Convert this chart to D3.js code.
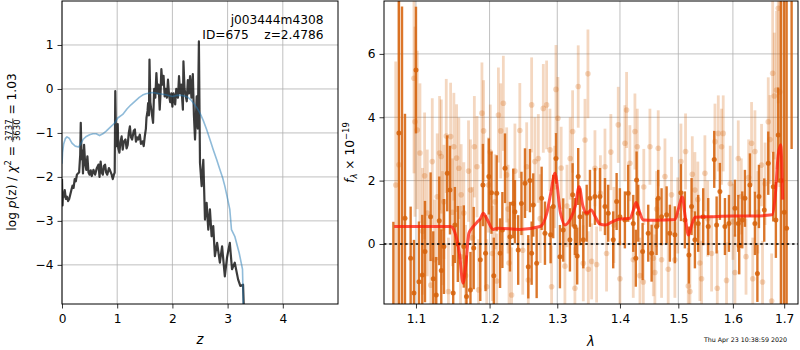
<!DOCTYPE html>
<html>
<head>
<meta charset="utf-8">
<script src="https://cdn.jsdelivr.net/npm/d3@7"></script>
<style>
body { margin: 0; background: #fff; }
svg { font-family: "DejaVu Sans", sans-serif; }
text { white-space: pre; }
</style>
</head>
<body>
<svg id="drawing_region" width="800" height="350"></svg>
<script>
// ---------- left panel: log p(z) ----------
const pz_z = [0.00,0.01,0.02,0.035,0.05,0.07,0.09,0.11,0.13,0.15,0.17,0.19,0.21,0.23,0.25,0.27,0.29,0.31,0.33,0.34,
  0.355,0.37,0.38,0.40,0.42,0.44,0.46,0.48,0.50,0.52,0.54,0.57,0.60,0.63,0.66,0.68,0.70,0.72,0.74,0.76,
  0.78,0.80,0.82,0.85,0.87,0.90,0.92,0.94,0.955,0.965,0.975,0.99,1.01,1.02,1.04,1.06,1.08,1.10,1.12,1.15,
  1.17,1.19,1.21,1.23,1.25,1.27,1.30,1.32,1.34,1.36,1.38,1.41,1.43,1.46,1.48,1.50,1.52,1.53,1.55,1.56,
  1.575,1.585,1.60,1.62,1.65,1.67,1.69,1.71,1.73,1.75,1.77,1.785,1.80,1.82,1.84,1.86,1.88,1.90,1.92,1.94,
  1.96,1.98,2.00,2.02,2.05,2.07,2.10,2.12,2.14,2.16,2.19,2.20,2.22,2.24,2.26,2.28,2.30,2.32,2.345,2.37,
  2.39,2.41,2.43,2.44,2.46,2.48,2.50,2.53,2.56,2.59,2.62,2.65,2.68,2.71,2.74,2.77,2.81,2.86,2.90,2.95,
  2.99,3.04,3.08,3.13,3.19,3.23,3.28,3.30];
const pz_logp = [-2.05,-2.65,-2.35,-2.45,-2.3,-2.5,-2.45,-2.55,-2.5,-2.4,-2.3,-2.2,-2.25,-2.05,-2.1,-1.95,-1.92,-1.9,-1.5,-0.77,
  -1.6,-1.4,-1.92,-1.27,-1.7,-1.84,-1.53,-1.9,-1.95,-1.85,-1.98,-1.84,-1.95,-1.8,-1.72,-2.0,-1.65,-1.9,-1.95,-1.75,
  -1.72,-1.9,-1.95,-1.8,-1.85,-1.95,-2.05,-1.95,-1.9,-0.05,-0.9,-1.3,-0.8,-1.35,-1.45,-1.2,-1.08,-1.38,-1.2,-1.15,
  -1.35,-1.27,-1.0,-0.85,-1.1,-1.15,-0.95,-0.92,-1.2,-1.1,-1.15,-1.04,-1.25,-1.19,-1.3,-1.08,-0.9,-0.66,-0.5,-0.32,
  -0.6,0.67,-0.3,-0.5,-0.77,0.0,-0.2,0.36,-0.1,0.1,-0.47,-0.1,0.45,0.1,0.3,-0.17,0.0,-0.2,0.21,-0.15,
  -0.3,-0.1,-0.4,-0.1,-0.35,0.0,-0.2,0.29,-0.1,0.1,-0.47,0.63,0.0,-0.15,-0.28,0.2,-0.1,0.29,-0.2,0.34,
  -0.6,-1.15,-0.5,-0.17,-0.9,1.08,-1.68,-2.21,-1.61,-2.97,-2.59,-3.2,-2.74,-3.35,-3.12,-3.8,-3.5,-3.95,-3.58,-4.26,
  -3.83,-3.5,-4.1,-3.95,-4.33,-4.48,-4.45,-5.2];
const prior_z = [0.00,0.01,0.03,0.06,0.09,0.13,0.18,0.24,0.30,0.34,0.38,0.44,0.50,0.56,0.62,0.68,0.74,0.80,0.89,0.95,
  1.01,1.10,1.18,1.25,1.33,1.40,1.46,1.52,1.64,1.77,1.88,2.00,2.10,2.18,2.27,2.33,2.38,2.44,2.50,2.56,
  2.62,2.68,2.74,2.80,2.86,2.91,2.95,3.00,3.04,3.07,3.13,3.21,3.27,3.29];
const prior_logp = [-1.7,-1.45,-1.25,-1.13,-1.09,-1.12,-1.23,-1.3,-1.32,-1.25,-1.15,-1.08,-1.04,-1.02,-1.02,-1.06,-1.02,-0.96,-0.85,-0.78,
  -0.66,-0.58,-0.45,-0.36,-0.27,-0.19,-0.14,-0.11,-0.08,-0.11,-0.13,-0.17,-0.14,-0.15,-0.18,-0.24,-0.32,-0.42,-0.55,-0.72,
  -0.92,-1.15,-1.38,-1.6,-1.83,-2.02,-2.21,-2.5,-2.74,-3.2,-3.35,-3.73,-4.1,-5.2];
const pz_xticks = [0, 1, 2, 3, 4];
const pz_yticks = [-4, -3, -2, -1, 0, 1];

// ---------- right panel: spectrum ----------
// fitted spectrum (solid orange)
const fit_wave = [1.071,1.078,1.082,1.0858,1.0931,1.0974,1.100,1.1039,1.1082,1.1118,1.1192,1.1227,1.1267,1.1307,1.1334,1.137,1.1414,1.1451,1.1495,1.1518,
  1.1558,1.164,1.1677,1.1732,1.1777,1.1869,1.1906,1.1943,1.199,1.2027,1.206,1.2102,1.215,1.2183,1.2221,1.2293,1.2341,1.2365,1.2413,1.2461,
  1.2513,1.2562,1.2587,1.2612,1.2636,1.2687,1.2762,1.2812,1.2898,1.2938,1.298,1.3041,1.3092,1.3196,1.3238,1.3274,1.331,1.3326,1.3354,1.3406,
  1.346,1.3512,1.3592,1.3673,1.3754,1.3807,1.3889,1.3945,1.3999,1.4082,1.4137,1.4222,1.4265,1.4278,1.4306,1.438,1.4476,1.4534,1.462,1.4648,
  1.4706,1.4794,1.4851,1.4939,1.5046,1.5117,1.5189,1.5237,1.5297,1.5357,1.5448,1.554,1.5651,1.5695,1.5756,1.585,1.5925,1.6039,1.6102,1.612,
  1.6178,1.6229,1.6325,1.6422,1.647,1.65,1.6604,1.6683,1.6782,1.6834,1.6881,1.6934,1.7001,1.7049,1.715];
const fit_flux = [-2.3,3.5,-2.5,0.81,-0.45,-1.55,5.49,-1.19,-0.98,-0.24,0.86,-1.1,-1.61,0.73,-0.84,-0.08,2.23,1.7,-1.55,0.6,
  0.0,-0.08,-1.66,-1.45,-0.13,-0.5,1.86,-0.29,2.13,1.62,-1.0,1.6,-0.29,0.44,2.39,0.23,1.28,1.02,-0.19,1.28,
  1.92,-0.72,2.0,-0.29,1.23,-0.61,1.44,0.34,0.29,1.18,2.7,-0.4,0.44,0.13,1.55,0.55,-0.38,2.13,0.86,0.13,
  0.97,1.44,1.5,1.5,1.18,0.97,0.13,1.34,0.86,0.76,1.6,0.65,-0.45,2.02,0.97,-0.24,0.34,-0.29,0.55,1.44,
  0.86,0.92,0.34,0.29,1.62,0.76,-0.35,1.18,0.13,0.65,0.86,0.55,2.67,0.6,1.66,0.55,0.65,1.13,0.65,-0.06,
  0.76,1.44,1.86,0.65,-0.93,1.5,1.07,2.55,1.81,0.76,3.44,2.0,1.0,0.5,8.5];
const fit_err = [3.0,6,10,3.3,1.63,1.68,2.0,1.9,1.9,1.6,1.4,1.5,1.2,1.4,1.3,1.5,1.2,1.4,1.2,1.2,
  1.2,1.3,1.3,1.2,1.3,1.3,1.3,1.2,1.2,1.3,1.2,1.2,1.1,1.2,1.1,1.1,1.1,1.0,1.1,1.0,
  1.1,1.0,1.0,1.0,1.0,1.1,1.0,1.0,0.9,1.0,0.8,1.0,1.0,1.0,1.0,0.9,0.9,0.9,0.9,0.9,
  0.9,0.9,0.9,0.9,0.9,0.9,0.9,0.9,0.9,0.9,0.9,0.9,0.9,0.9,0.9,0.9,0.9,0.9,0.9,0.9,
  0.9,0.9,0.9,0.9,0.9,0.9,0.9,0.9,0.9,0.9,0.9,0.9,0.9,0.9,0.9,0.9,0.9,0.9,0.9,0.9,
  0.9,0.9,1.0,1.0,0.9,1.0,1.0,1.0,1.1,1.2,1.5,6,9,12,5.5];

// raw spectrum (faint orange)
const raw_wave = [1.074,1.078,1.0974,1.0987,1.1017,1.1052,1.1113,1.1148,1.1195,1.1214,1.128,1.1311,1.1334,1.137,1.1401,1.143,1.146,1.1504,1.1541,1.1572,
  1.1604,1.164,1.1665,1.1732,1.1786,1.1823,1.1845,1.1892,1.1915,1.196,1.1985,1.2078,1.2102,1.2126,1.2159,1.2197,1.2245,1.2279,1.2317,1.2437,
  1.2538,1.2562,1.2612,1.2661,1.2712,1.2787,1.2837,1.2888,1.2913,1.298,1.301,1.3118,1.3238,1.3274,1.3326,1.3406,1.3433,1.348,1.3486,1.3539,
  1.3592,1.3619,1.3754,1.378,1.3972,1.3999,1.4082,1.411,1.4165,1.4222,1.425,1.429,1.4335,1.4392,1.4505,1.4563,1.459,1.4648,1.4706,1.4765,
  1.4822,1.488,1.4939,1.5046,1.5129,1.5177,1.5207,1.5297,1.5387,1.5418,1.5479,1.5602,1.5664,1.5707,1.5726,1.5787,1.5818,1.588,1.6039,1.6102,
  1.6357,1.638,1.6422,1.6551,1.657,1.6683,1.6716,1.675,1.677,1.6802,1.6847,1.6881,1.6911,1.695,
  1.1085,1.1245,1.135,1.1485,1.1595,1.1705,1.176,1.201,1.204,1.2265,1.2365,1.248,1.274,1.296,1.306,1.315,1.32,1.368,1.385,1.39,
  1.44,1.462,1.499,1.525,1.535,1.553,1.595,1.60,1.616,1.625,1.63,1.648,1.662];
const raw_flux = [1.86,2.5,5.23,3.86,3.6,2.87,2.15,0.98,-1.3,2.6,1.49,2.87,2.76,1.33,3.41,-1.5,3.39,3.07,2.71,2.39,
  1.55,0.98,-1.0,1.7,3.07,2.44,-1.45,4.13,3.57,-1.35,1.86,1.33,-1.17,4.07,3.57,4.44,2.18,-0.6,-1.61,3.58,
  2.44,-1.14,4.39,2.6,2.7,4.28,4.39,2.97,-1.35,4.88,3.97,-0.7,3.55,-1.4,4.97,-0.61,3.28,5.37,-0.8,-0.55,
  2.39,-0.65,2.44,-0.3,3.76,-1.1,3.18,4.23,2.55,-0.5,3.55,3.07,-1.0,-1.2,3.07,-0.45,-0.9,3.02,-0.5,2.13,
  -0.8,1.55,-0.5,2.6,2.92,-1.33,-1.5,1.7,-0.6,-1.1,2.23,-0.3,3.23,-1.4,3.49,3.07,3.49,-1.15,-0.9,2.7,
  3.18,-1.1,2.92,2.49,-1.2,3.86,3.3,-1.8,5.39,4.67,4.86,7.44,4.8,2.0,
  0.4,-0.5,0.5,1.0,-0.4,2.3,0.2,2.9,-0.3,1.1,2.3,-0.2,0.8,1.8,2.4,1.2,2.7,1.6,2.9,0.6,
  1.8,1.1,0.9,2.2,1.4,0.8,1.9,0.7,1.5,-0.4,2.1,1.0,1.9];
const raw_err = [3.9,5.5,3.0,3.0,2.5,2.2,2.0,2.0,1.8,2.0,2.0,1.8,1.8,1.8,1.8,1.7,1.7,1.7,1.7,1.6,
  1.6,1.6,1.6,1.6,1.6,1.6,1.6,1.6,1.6,1.5,1.5,1.5,1.5,1.5,1.5,1.5,1.5,1.4,1.5,1.5,
  1.4,1.3,1.5,1.4,1.4,1.4,1.4,1.3,1.3,1.4,1.3,1.3,1.3,1.3,1.3,1.2,1.3,1.4,1.2,1.2,
  1.2,1.2,1.2,1.2,1.2,1.2,1.2,1.2,1.2,1.2,1.2,1.2,1.2,1.2,1.2,1.2,1.2,1.2,1.2,1.2,
  1.2,1.2,1.2,1.2,1.2,1.2,1.2,1.2,1.2,1.2,1.2,1.2,1.2,1.2,1.2,1.2,1.2,1.2,1.2,1.2,
  1.3,1.3,1.3,1.3,1.3,1.4,1.4,1.5,2.5,2.0,2.5,3.0,3.0,6.0,
  2.0,1.9,1.8,1.7,1.6,1.6,1.6,1.5,1.5,1.4,1.5,1.4,1.4,1.3,1.3,1.3,1.3,1.2,1.2,1.2,
  1.2,1.2,1.2,1.2,1.2,1.2,1.2,1.2,1.2,1.2,1.2,1.3,1.3];

// best-fit template (red)
const model_wave = [1.072,1.100,1.146,1.152,1.158,1.163,1.167,1.171,1.176,1.183,1.187,1.191,1.196,1.205,1.212,1.244,1.274,1.284,1.290,1.2965,
  1.305,1.312,1.322,1.328,1.334,1.340,1.346,1.353,1.360,1.367,1.376,1.387,1.398,1.417,1.422,1.427,1.433,1.439,1.460,1.494,
  1.500,1.507,1.512,1.518,1.524,1.530,1.560,1.600,1.640,1.676,1.682,1.688,1.693,1.697];
const model_flux = [0.55,0.55,0.55,0.35,-0.3,-1.24,-0.6,0.34,0.52,0.7,0.8,0.97,0.8,0.46,0.5,0.46,0.55,0.97,1.6,2.23,
  0.97,0.6,0.86,1.2,1.81,1.2,0.97,1.07,0.85,0.63,0.6,0.7,0.78,0.81,1.05,1.31,1.0,0.76,0.75,0.77,
  1.1,1.49,0.9,0.28,0.6,0.84,0.86,0.88,0.88,0.92,1.5,2.8,3.13,1.4];
const sp_xticks = [1.1, 1.2, 1.3, 1.4, 1.5, 1.6, 1.7];
const sp_yticks = [0, 2, 4, 6];

const obj_name = 'j003444m4308';
const obj_info = 'ID=675    z=2.4786';
const time_stamp = 'Thu Apr 23 10:38:59 2020';

const svg = d3.select('#drawing_region');
const FONT = 12.2;
const ORANGE = '#d6630c';

function drawGrid(g, x, y, xticks, yticks) {
    const [x0, x1] = x.range();
    const [y0, y1] = y.range();
    g.append('g').selectAll('line').data(xticks).join('line')
        .attr('x1', d => x(d)).attr('x2', d => x(d))
        .attr('y1', y0).attr('y2', y1)
        .attr('stroke', '#b0b0b0').attr('stroke-width', 0.8);
    g.append('g').selectAll('line').data(yticks).join('line')
        .attr('x1', x0).attr('x2', x1)
        .attr('y1', d => y(d)).attr('y2', d => y(d))
        .attr('stroke', '#b0b0b0').attr('stroke-width', 0.8);
}

function drawAxes(g, x, y, xticks, yticks, xfmt, yfmt) {
    const [x0, x1] = x.range();
    const [y0, y1] = y.range();
    const xa = g.append('g').attr('transform', `translate(0,${y0})`)
        .call(d3.axisBottom(x).tickValues(xticks).tickFormat(xfmt).tickSize(4.5).tickPadding(5.5));
    const ya = g.append('g').attr('transform', `translate(${x0},0)`)
        .call(d3.axisLeft(y).tickValues(yticks).tickFormat(yfmt).tickSize(4.5).tickPadding(4));
    [xa, ya].forEach(a => {
        a.attr('font-family', null).attr('font-size', FONT);
        a.select('.domain').remove();
        a.selectAll('line').attr('stroke', '#000').attr('stroke-width', 0.8);
        a.selectAll('text').attr('fill', '#000');
    });
    g.append('rect')
        .attr('x', x0).attr('y', y1)
        .attr('width', x1 - x0).attr('height', y0 - y1)
        .attr('fill', 'none').attr('stroke', '#000').attr('stroke-width', 1);
}

// ================= left panel =================
const xz = d3.scaleLinear().domain([0, 5]).range([62, 338]);
const yz = d3.scaleLinear().domain([-4.89, 2.0]).range([304, 1]);
const left = svg.append('g');

svg.append('clipPath').attr('id', 'clipL').append('rect')
    .attr('x', 62).attr('y', 1).attr('width', 276).attr('height', 303);

drawGrid(left, xz, yz, pz_xticks, pz_yticks);

const pzLine = d3.line().x(d => xz(d[0])).y(d => yz(d[1]));
const leftData = left.append('g').attr('clip-path', 'url(#clipL)');
leftData.append('path')
    .datum(d3.zip(pz_z, pz_logp))
    .attr('d', pzLine)
    .attr('fill', 'none').attr('stroke', '#000').attr('stroke-opacity', 0.77)
    .attr('stroke-width', 2.2).attr('stroke-linejoin', 'round');
leftData.append('path')
    .datum(d3.zip(prior_z, prior_logp))
    .attr('d', pzLine)
    .attr('fill', 'none').attr('stroke', '#1f77b4').attr('stroke-opacity', 0.5)
    .attr('stroke-width', 1.6).attr('stroke-linejoin', 'round');

drawAxes(left, xz, yz, pz_xticks, pz_yticks, d3.format('d'), d3.format('d'));

left.append('text').attr('x', 323.5).attr('y', 24).attr('text-anchor', 'end')
    .attr('font-size', FONT).text(obj_name);
left.append('text').attr('x', 323.5).attr('y', 38.5).attr('text-anchor', 'end')
    .attr('font-size', FONT).text(obj_info);

left.append('text').attr('x', 200).attr('y', 344).attr('text-anchor', 'middle')
    .attr('font-size', FONT + 1).attr('font-style', 'italic').text('z');

// y label with a stacked fraction
const ylab = svg.append('g').attr('transform', 'translate(16,152) rotate(-90)')
    .attr('font-size', FONT);
const part1 = ylab.append('text');
part1.append('tspan').text('log ');
part1.append('tspan').attr('font-style', 'italic').text('p');
part1.append('tspan').text('(z) / ');
part1.append('tspan').attr('font-style', 'italic').text('χ');
part1.append('tspan').attr('font-size', 8.5).attr('dy', -5).text('2');
part1.append('tspan').attr('dy', 5).text(' = ');
const num = ylab.append('text').attr('font-size', 8.5).attr('text-anchor', 'middle').text('3737');
const den = ylab.append('text').attr('font-size', 8.5).attr('text-anchor', 'middle').text('3630');
const part3 = ylab.append('text').text(' = 1.03');

const w1 = part1.node().getComputedTextLength();
const wf = Math.max(num.node().getComputedTextLength(), den.node().getComputedTextLength()) + 2;
const w3 = part3.node().getComputedTextLength();
const u0 = -(w1 + wf + w3) / 2;
part1.attr('x', u0);
num.attr('x', u0 + w1 + wf / 2).attr('y', -4.5);
den.attr('x', u0 + w1 + wf / 2).attr('y', 4);
ylab.append('line')
    .attr('x1', u0 + w1).attr('x2', u0 + w1 + wf)
    .attr('y1', -3.2).attr('y2', -3.2)
    .attr('stroke', '#000').attr('stroke-width', 0.7);
part3.attr('x', u0 + w1 + wf);

// ================= right panel =================
const xs = d3.scaleLog().domain([1.0592, 1.728]).range([384, 798]);
const ys = d3.scaleLinear().domain([-1.895, 7.67]).range([304, 1]);
const right = svg.append('g');

svg.append('clipPath').attr('id', 'clipR').append('rect')
    .attr('x', 384).attr('y', 1).attr('width', 414).attr('height', 303);

drawGrid(right, xs, ys, sp_xticks, sp_yticks);

const rightData = right.append('g').attr('clip-path', 'url(#clipR)');

function errorbars(g, wave, flux, err, opacity, r, w) {
    const pts = d3.zip(wave, flux, err);
    g.append('g').selectAll('line').data(pts).join('line')
        .attr('x1', d => xs(d[0])).attr('x2', d => xs(d[0]))
        .attr('y1', d => ys(d[1] - d[2])).attr('y2', d => ys(d[1] + d[2]))
        .attr('stroke', ORANGE).attr('stroke-opacity', opacity).attr('stroke-width', w);
    g.append('g').selectAll('circle').data(pts).join('circle')
        .attr('cx', d => xs(d[0])).attr('cy', d => ys(d[1])).attr('r', r)
        .attr('fill', ORANGE).attr('fill-opacity', opacity);
}

errorbars(rightData, raw_wave, raw_flux, raw_err, 0.26, 2.8, 2.8);
errorbars(rightData, fit_wave, fit_flux, fit_err, 0.88, 2.5, 2.4);

rightData.append('path')
    .datum(d3.zip(model_wave, model_flux))
    .attr('d', d3.line().x(d => xs(d[0])).y(d => ys(d[1])).curve(d3.curveMonotoneX))
    .attr('fill', 'none').attr('stroke', '#ff1a0a').attr('stroke-opacity', 0.75)
    .attr('stroke-width', 3).attr('stroke-linejoin', 'round');

rightData.append('line')
    .attr('x1', 384).attr('x2', 798)
    .attr('y1', ys(0)).attr('y2', ys(0))
    .attr('stroke', '#000').attr('stroke-width', 1.6)
    .attr('stroke-dasharray', '2.4,2.9');

drawAxes(right, xs, ys, sp_xticks, sp_yticks, d3.format('.1f'), d3.format('d'));

right.append('text').attr('x', 591).attr('y', 346).attr('text-anchor', 'middle')
    .attr('font-size', FONT + 1).attr('font-style', 'italic').text('λ');

const ylabR = svg.append('text')
    .attr('transform', 'translate(354,152.5) rotate(-90)')
    .attr('text-anchor', 'middle').attr('font-size', FONT);
ylabR.append('tspan').attr('font-style', 'italic').text('f');
ylabR.append('tspan').attr('font-size', 8.5).attr('font-style', 'italic').attr('dy', 3).text('λ');
ylabR.append('tspan').attr('dy', -3).text(' × 10');
ylabR.append('tspan').attr('font-size', 8.5).attr('dy', -5).text('−19');

svg.append('text').attr('x', 787).attr('y', 341.5).attr('text-anchor', 'end')
    .attr('font-size', 6.3).attr('fill', '#000').text(time_stamp);
</script>
</body>
</html>
